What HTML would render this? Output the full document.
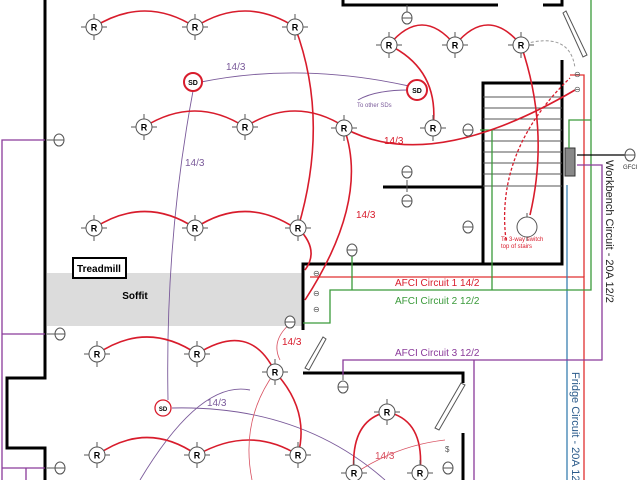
<!DOCTYPE html>
<html><head><style>
html,body{margin:0;padding:0;background:#fff;}
svg{display:block;font-family:"Liberation Sans",sans-serif;}
</style></head><body>
<svg width="640" height="480" viewBox="0 0 640 480" xmlns="http://www.w3.org/2000/svg">
<defs>
<g id="R">
<circle r="8" fill="#fff" stroke="#555" stroke-width="1"/>
<path d="M-13,0H-8M8,0H13M0,-13V-8M0,8V13" stroke="#555" stroke-width="1"/>
<text y="3.5" text-anchor="middle" font-size="9" font-weight="bold" fill="#000">R</text>
</g>
<g id="O">
<ellipse rx="5" ry="6" fill="#fff" stroke="#555" stroke-width="1"/>
<path d="M-5,0H5" stroke="#555"/>
</g>
</defs>
<rect x="47" y="273" width="256" height="53" fill="#dcdcdc"/>
<text x="135" y="299" text-anchor="middle" font-size="10" font-weight="bold">Soffit</text>
<rect x="73" y="258" width="53" height="20" fill="#fff" stroke="#000" stroke-width="2"/>
<text x="99" y="272" text-anchor="middle" font-size="10" font-weight="bold">Treadmill</text>

<g stroke="#000" stroke-width="3" fill="none">
<path d="M45,0V378H7V448H45V480"/>
<path d="M343,0V5H498"/>
<path d="M543,5H562V0"/>
<path d="M562,60V264H303V330"/>
<path d="M483,264V83H562"/>
<path d="M383,187H483"/>
<path d="M303,373H463V383M463,433V480"/>
</g>
<g stroke="#555" stroke-width="1" fill="none">
<path d="M563,13L583,57L587,55L566,11Z"/>
<path d="M461,383L435,428L439,430L465,385Z"/>
<path d="M323,337L305,368L309,370L326,339Z"/>
<path d="M483,97H562M483,108H562M483,119H562M483,130H562M483,141H562M483,152H562M483,163H562M483,174H562M483,186H562"/>
</g>
<rect x="565" y="148" width="10" height="28" fill="#888" stroke="#333"/>

<g fill="none" stroke-width="1.3">
<path d="M310,277H584V480" stroke="#e03030"/>
<path d="M570,75H584V277" stroke="#e03030"/>
<path d="M567,185V480" stroke="#3a7fb0"/>
<path d="M591,0V290H330V323H303" stroke="#3a9a3a"/>
<path d="M352,250V290M492,130V290M480,130H492M569,148V120H591" stroke="#3a9a3a"/>
<path d="M343,375V360H602V165H577M474,360V480" stroke="#8a3a9a"/>
<path d="M45,140H2V480M2,334H45M2,468H45M26,468V480" stroke="#8a3a9a"/>
<path d="M577,155H625" stroke="#000"/>
</g>

<g fill="none" stroke="#7a5a9a" stroke-width="0.9">
<path d="M201,82Q300,62 409,86"/>
<path d="M193,91Q165,240 168,400"/>
<path d="M409,90Q375,90 358,100"/>
<path d="M172,408Q300,405 385,480"/>
<path d="M140,480Q200,380 250,390"/>
</g>

<g fill="none" stroke="#d81c2c" stroke-width="1.6">
<path d="M94,27Q145,-5 195,27Q245,-5 295,27"/>
<path d="M144,127Q195,95 245,127Q295,95 345,127"/>
<path d="M94,228Q145,195 195,228Q245,195 295,228"/>
<path d="M295,27Q330,120 298,228"/>
<path d="M298,228Q320,250 305,270"/>
<path d="M344,128Q370,200 305,300"/>
<path d="M389,45Q422,5 455,45Q488,5 521,45"/>
<path d="M389,45Q440,70 433,128"/>
<path d="M521,45Q550,130 530,215"/>
<path d="M344,128Q430,175 575,90"/>
<path d="M97,354Q147,320 197,354Q250,320 275,372Q310,410 298,455"/>
<path d="M97,455Q147,420 197,455Q250,425 298,455"/>
<path d="M354,473Q350,420 387,412Q425,420 420,473"/>
</g>
<g fill="none" stroke="#d81c2c" stroke-width="1.3" stroke-dasharray="3,2">
<path d="M506,240Q495,150 570,78"/>
</g>
<g fill="none" stroke="#999" stroke-width="1" stroke-dasharray="3,2">
<path d="M521,45Q570,30 575,68"/>
</g>
<g fill="none" stroke="#d85060" stroke-width="0.8">
<path d="M275,372Q240,420 252,480"/>
<path d="M360,470Q400,445 445,440"/>
<path d="M292,322Q270,340 280,360"/>
</g>

<use href="#R" x="94" y="27"/><use href="#R" x="195" y="27"/><use href="#R" x="295" y="27"/>
<use href="#R" x="144" y="127"/><use href="#R" x="245" y="127"/><use href="#R" x="344" y="128"/>
<use href="#R" x="94" y="228"/><use href="#R" x="195" y="228"/><use href="#R" x="298" y="228"/>
<use href="#R" x="389" y="45"/><use href="#R" x="455" y="45"/><use href="#R" x="521" y="45"/>
<use href="#R" x="433" y="128"/>
<use href="#R" x="97" y="354"/><use href="#R" x="197" y="354"/><use href="#R" x="275" y="372"/>
<use href="#R" x="97" y="455"/><use href="#R" x="197" y="455"/><use href="#R" x="298" y="455"/>
<use href="#R" x="387" y="412"/><use href="#R" x="354" y="473"/><use href="#R" x="420" y="473"/>
<g stroke="#d81c2c" stroke-width="2" fill="#fff">
<circle cx="193" cy="82" r="9"/><circle cx="417" cy="90" r="10"/><circle cx="163" cy="408" r="8" stroke-width="1.3"/>
</g>
<g font-size="7" font-weight="bold" text-anchor="middle">
<text x="193" y="85">SD</text><text x="417" y="93">SD</text><text x="163" y="411" font-size="6">SD</text>
</g>
<circle cx="527" cy="227" r="10" fill="#fff" stroke="#555"/>
<path d="M527,213V217M527,237V241" stroke="#555"/>

<g stroke="#555" fill="none"><path d="M47,140H55M47,334H55M47,468H55M407,5V12M407,180V192M470,130H463M470,227H463M343,375V380"/></g>
<use href="#O" x="59" y="140"/><use href="#O" x="60" y="334"/><use href="#O" x="60" y="468"/>
<use href="#O" x="407" y="18"/><use href="#O" x="407" y="172"/><use href="#O" x="407" y="201"/>
<use href="#O" x="468" y="130"/><use href="#O" x="468" y="227"/><use href="#O" x="343" y="387"/>
<use href="#O" x="448" y="468"/><use href="#O" x="352" y="250"/><use href="#O" x="290" y="322"/>
<use href="#O" x="630" y="155"/>
<g font-size="8" fill="#555"><text x="574" y="77">⊖</text><text x="574" y="92">⊖</text><text x="313" y="276">⊖</text><text x="313" y="296">⊖</text><text x="313" y="312">⊖</text><text x="445" y="452">$</text></g>

<g font-size="10">
<text x="226" y="70" fill="#7a5a9a">14/3</text>
<text x="185" y="166" fill="#7a5a9a">14/3</text>
<text x="207" y="406" fill="#7a5a9a">14/3</text>
<text x="384" y="144" fill="#d81c2c">14/3</text>
<text x="356" y="218" fill="#d81c2c">14/3</text>
<text x="282" y="345" fill="#d81c2c">14/3</text>
<text x="375" y="459" fill="#d85060">14/3</text>
<text x="395" y="286" fill="#d81c2c">AFCI Circuit 1 14/2</text>
<text x="395" y="304" fill="#3a9a3a">AFCI Circuit 2 12/2</text>
<text x="395" y="356" fill="#8a3a9a">AFCI Circuit 3 12/2</text>
</g>
<text x="357" y="107" font-size="6" fill="#7a5a9a">To other SDs</text>
<text x="501" y="241" font-size="6" fill="#d81c2c">To 3-way switch</text>
<text x="501" y="248" font-size="6" fill="#d81c2c">top of stairs</text>
<text x="623" y="169" font-size="6" fill="#333">GFCI</text>
<text transform="translate(606,160) rotate(90)" font-size="11" fill="#222">Workbench Circuit - 20A 12/2</text>
<text transform="translate(572,372) rotate(90)" font-size="11" fill="#2a5a8a">Fridge Circuit - 20A 12/2</text>
</svg>
</body></html>
